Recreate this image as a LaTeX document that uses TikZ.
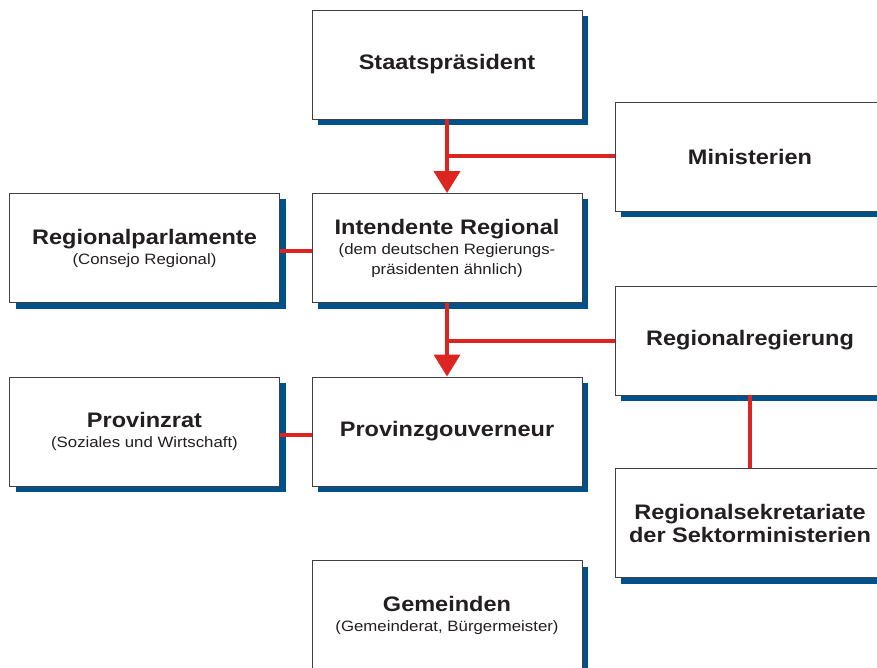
\documentclass[tikz,border=0pt]{standalone}
\usepackage{fontspec}
\setmainfont{Liberation Sans}[FakeStretch=1.12]
\usetikzlibrary{arrows.meta,shadows}
\definecolor{shblue}{HTML}{00508A}
\definecolor{lred}{HTML}{DC2420}
\definecolor{txt}{HTML}{231F20}
\newcommand{\ttlf}{\fontsize{21}{23}\selectfont\bfseries}
\newcommand{\subf}{\fontsize{15}{20}\selectfont}
\begin{document}
\begin{tikzpicture}[x=1pt,y=-1pt,
  orgbox/.style={draw=black!75, line width=0.9pt, fill=white, text=txt,
    minimum width=270pt, minimum height=109pt, inner sep=0pt, align=center,
    drop shadow={shadow xshift=6pt, shadow yshift=-6pt, fill=shblue, opacity=1}},
  twoline/.style={orgbox, font=\subf},
  conn/.style={draw=lred, line width=4pt},
  arr/.style={conn, -{Triangle[width=26pt,length=22pt]}}]
\useasboundingbox (0,0) rectangle (877,668);
\clip (0,0) rectangle (877,668);
\node[orgbox, font=\ttlf] (stp) at (447,64.5) {Staatspräsident};
\node[orgbox, font=\ttlf] (min) at (750,156.5) {Ministerien};
\node[twoline] (rp) at (144.5,248) {{\ttlf Regionalparlamente}\\(Consejo Regional)};
\node[twoline] (ir) at (447,248) {{\ttlf Intendente Regional}\\(dem deutschen Regierungs-\\präsidenten ähnlich)};
\node[orgbox, font=\ttlf] (rr) at (750,340.5) {Regionalregierung};
\node[twoline] (pr) at (144.5,431.5) {{\ttlf Provinzrat}\\(Soziales und Wirtschaft)};
\node[orgbox, font=\ttlf] (pg) at (447,431.5) {Provinzgouverneur};
\node[orgbox, font=\ttlf] (rs) at (750,523) {Regionalsekretariate\\der Sektorministerien};
\node[twoline] (gm) at (447,615) {{\ttlf Gemeinden}\\(Gemeinderat, Bürgermeister)};
\draw[arr] (stp.south) -- (ir.north);
\draw[conn] (min.west) -- (min.west -| stp.south);
\draw[arr] (ir.south) -- (pg.north);
\draw[conn] (rr.west) -- (rr.west -| ir.south);
\draw[conn] ([yshift=-3pt]rp.east) -- ([yshift=-3pt]ir.west);
\draw[conn] ([yshift=-3pt]pr.east) -- ([yshift=-3pt]pg.west);
\draw[conn] (rr.south) -- (rs.north);
\end{tikzpicture}
\end{document}
